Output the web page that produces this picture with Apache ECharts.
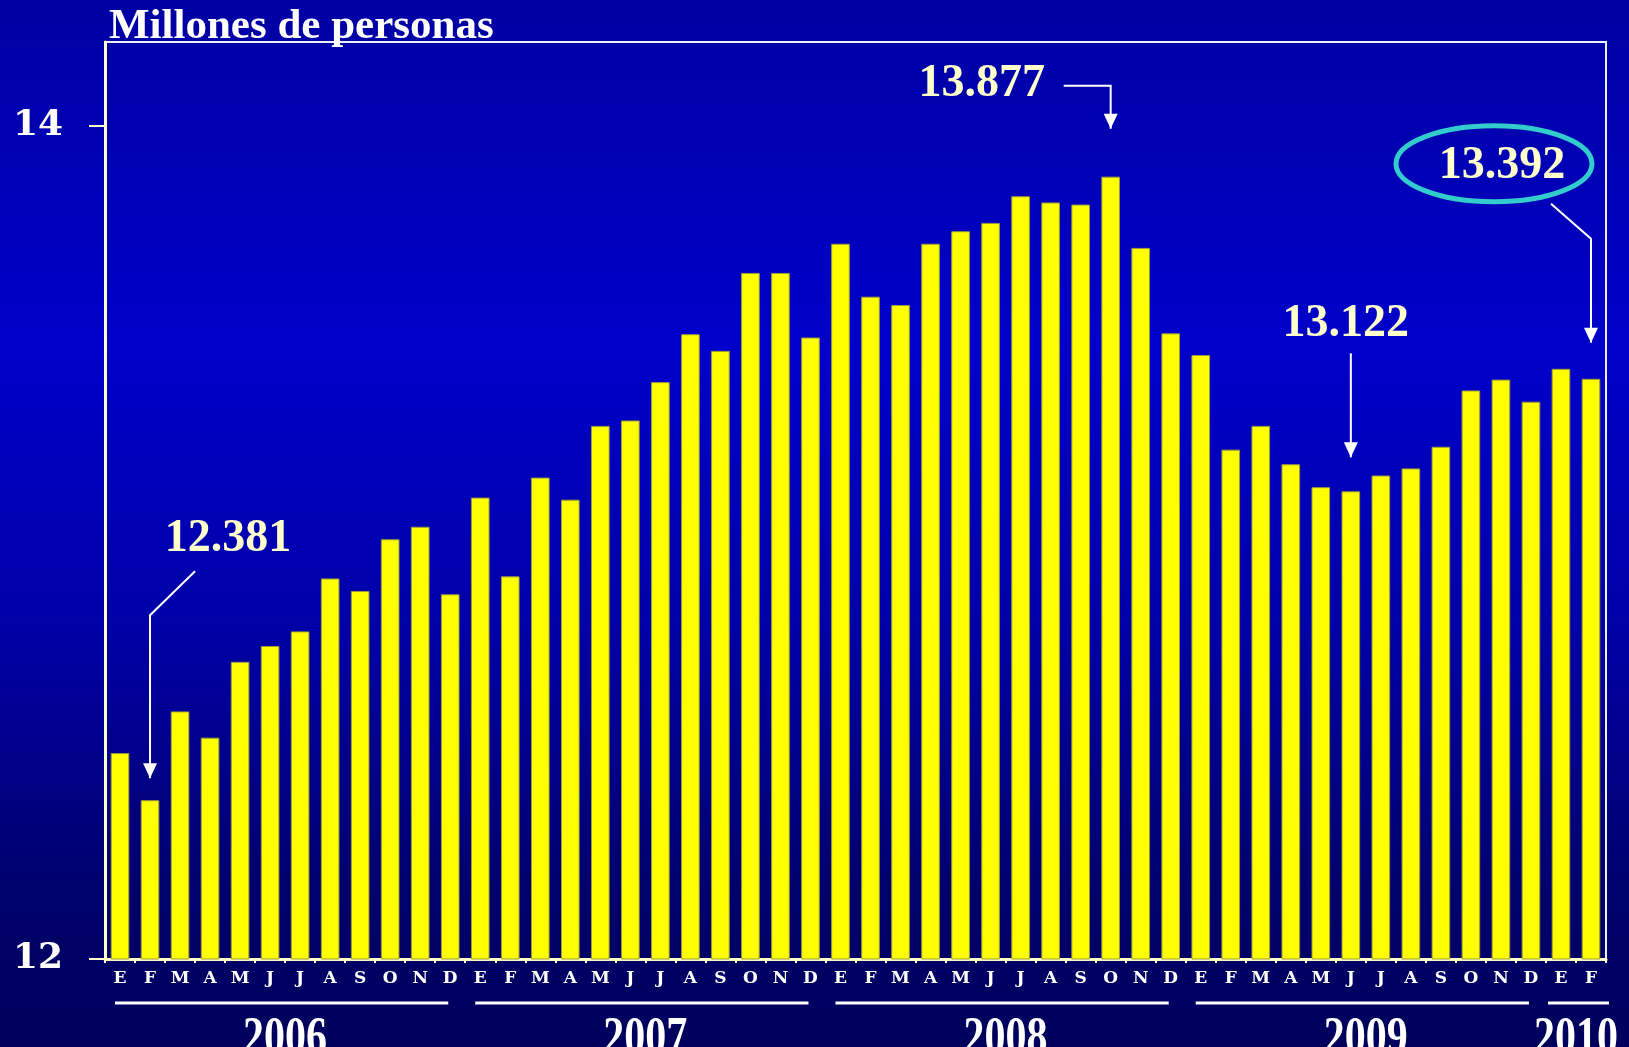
<!DOCTYPE html>
<html>
<head>
<meta charset="utf-8">
<script src="https://cdn.jsdelivr.net/npm/echarts@6/dist/echarts.min.js"></script>
<style>
  html, body { margin: 0; padding: 0; width: 1629px; height: 1047px; overflow: hidden; background: #00009a; }
  #chart { width: 1629px; height: 1047px; }
</style>
</head>
<body>
<div id="chart"></div>
<script>
// Month initials (Spanish) and the years they belong to
const months = ['E', 'F', 'M', 'A', 'M', 'J', 'J', 'A', 'S', 'O', 'N', 'D'];
const years = ['2006', '2007', '2008', '2009', '2010'];
const monthsInYear = [12, 12, 12, 12, 2];

// Ocupados, millones de personas (enero 2006 - febrero 2010)
const ocupados = [
  12.494, 12.381, 12.594, 12.531, 12.713, 12.751, 12.786, 12.913, 12.883, 13.007, 13.037, 12.875,
  13.107, 12.918, 13.155, 13.102, 13.279, 13.292, 13.384, 13.499, 13.459, 13.646, 13.646, 13.491,
  13.716, 13.589, 13.569, 13.716, 13.746, 13.766, 13.830, 13.815, 13.810, 13.877, 13.706, 13.501,
  13.449, 13.222, 13.279, 13.187, 13.132, 13.122, 13.160, 13.177, 13.229, 13.364, 13.390, 13.337,
  13.416, 13.392
];

// Y axis tick labels
const yTickValues = [12, 14];

// Points that carry a value callout (indexes into ocupados)
const calloutIndex = [1, 33, 41, 49];

const monthLabels = [];
years.forEach((y, i) => { for (let m = 0; m < monthsInYear[i]; m++) monthLabels.push(months[m]); });

const CREAM = '#FFFFCC';
const SERIF = '"Liberation Serif", "Times New Roman", serif';

const chart = echarts.init(document.getElementById('chart'));
chart.setOption({
  animation: false,
  backgroundColor: new echarts.graphic.LinearGradient(0, 0, 0, 1, [
    { offset: 0, color: '#0000A2' },
    { offset: 0.33, color: '#0000CA' },
    { offset: 0.6, color: '#0000A6' },
    { offset: 0.85, color: '#00006C' },
    { offset: 1, color: '#00005C' }
  ]),
  title: {
    text: 'Millones de personas',
    left: 109,
    top: 5,
    padding: 0,
    textStyle: {
      color: '#FFFFFF',
      fontFamily: SERIF,
      fontWeight: 'bold',
      fontSize: 43,
      textShadowColor: '#000000',
      textShadowOffsetX: 2,
      textShadowOffsetY: 2,
      textShadowBlur: 0
    }
  },
  grid: {
    left: 105, right: 23, top: 42, bottom: 88,
    show: true, borderColor: '#EEEEFF', borderWidth: 2, backgroundColor: 'transparent'
  },
  xAxis: {
    type: 'category',
    data: monthLabels,
    boundaryGap: true,
    axisLine: { lineStyle: { color: CREAM, width: 3 } },
    axisTick: { show: true, length: 4, lineStyle: { color: CREAM, width: 2 } },
    axisLabel: {
      interval: 0, color: '#FFFFFF', margin: 11,
      fontFamily: '"DejaVu Serif", serif', fontWeight: 'bold', fontSize: 17
    }
  },
  yAxis: {
    type: 'value',
    min: 12,
    max: 14.2,
    splitLine: { show: false },
    axisLine: { show: true, lineStyle: { color: CREAM, width: 3 } },
    axisTick: { show: true, length: 16, customValues: yTickValues, lineStyle: { color: CREAM, width: 2 } },
    axisLabel: {
      customValues: yTickValues, color: '#FFFFFF', margin: 42,
      fontFamily: '"DejaVu Serif", serif', fontWeight: 'bold', fontSize: 36
    }
  },
  series: [{
    type: 'bar',
    data: ocupados,
    barWidth: '62%',
    itemStyle: { color: '#FFFF00', borderColor: '#9A9A3A', borderWidth: 1 }
  }]
});

// ---- annotations: year brackets and value callouts, placed from the axes ----
const graphics = [];
const catX = i => chart.convertToPixel({ xAxisIndex: 0 }, i);
const catW = catX(1) - catX(0);

// Year underline + label under each group of months
let start = 0;
years.forEach((y, i) => {
  const n = monthsInYear[i];
  const x0 = catX(start) - catW / 2;
  const x1 = catX(start + n - 1) + catW / 2;
  const mid = (x0 + x1) / 2;
  const short = (x1 - x0) < 100;
  const lx0 = short ? x0 + 2 : x0 + 10;
  const lx1 = short ? x1 + 3 : x1 - 17;
  graphics.push({
    type: 'line',
    shape: { x1: lx0, y1: 1003, x2: lx1, y2: 1003 },
    style: { stroke: '#FFFFFF', lineWidth: 3 }
  });
  graphics.push({
    type: 'text', x: mid, y: 1013, scaleY: 1.3,
    style: { text: y, font: 'bold 42px ' + SERIF, fill: '#FFFFFF', textAlign: 'center', textVerticalAlign: 'top' }
  });
  start += n;
});

// Leader geometry for each callout, relative to the top centre of its bar
const calloutLayout = [
  { leader: [[0, -22], [0, -185], [45, -229]], text: [78, -261] },
  { leader: [[0, -48], [0, -91], [-47, -91]], text: [-129, -93] },
  { leader: [[0, -34], [0, -138]], text: [-5, -167] },
  { leader: [[0, -36], [0, -140], [-40, -175]], text: [-89, -213], ellipse: { c: [-97, -215], rx: 98, ry: 38 } }
];

calloutIndex.forEach((idx, k) => {
  const v = ocupados[idx];
  const [bx, by] = chart.convertToPixel({ gridIndex: 0 }, [idx, v]);
  const L = calloutLayout[k];
  const pts = L.leader.map(p => [bx + p[0], by + p[1]]);
  const tip = pts[0];
  graphics.push({ type: 'polyline', shape: { points: pts }, style: { stroke: '#FFFFFF', lineWidth: 2, fill: null } });
  graphics.push({
    type: 'polygon',
    shape: { points: [[tip[0] - 7, tip[1] - 15], [tip[0] + 7, tip[1] - 15], [tip[0], tip[1]]] },
    style: { fill: '#FFFFFF' }
  });
  if (L.ellipse) {
    graphics.push({
      type: 'ellipse',
      shape: { cx: bx + L.ellipse.c[0], cy: by + L.ellipse.c[1], rx: L.ellipse.rx, ry: L.ellipse.ry },
      style: { stroke: '#33CCCC', lineWidth: 5, fill: null }
    });
  }
  graphics.push({
    type: 'text', x: bx + L.text[0], y: by + L.text[1],
    style: {
      text: v.toFixed(3), font: 'bold 46px ' + SERIF, fill: CREAM,
      textAlign: 'center', textVerticalAlign: 'middle'
    }
  });
});

chart.setOption({ graphic: graphics });
</script>
</body>
</html>
